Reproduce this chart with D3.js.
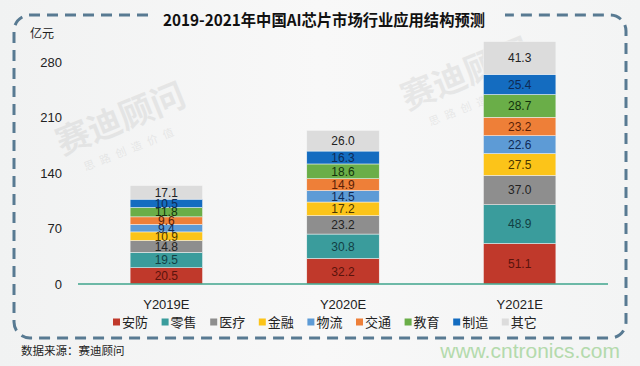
<!DOCTYPE html>
<html>
<head>
<meta charset="utf-8">
<script src="https://cdn.jsdelivr.net/npm/d3@7"></script>
<style>
  html, body { margin: 0; padding: 0; background: #f5f6f6; }
  svg { display: block; }
</style>
</head>
<body>
<div id="chart"></div>
<script>
const years = ['Y2019E', 'Y2020E', 'Y2021E'];
const seriesNames = ['安防', '零售', '医疗', '金融', '物流', '交通', '教育', '制造', '其它'];
const seriesColors = ['#c0392b', '#3a9c9c', '#8e8e8e', '#fcc419', '#5d9bd6', '#ee7f38', '#6aae48', '#146cc0', '#dcdcdc'];
const labelColors = ['#5a130c', '#123f44', '#222222', '#4a3600', '#102a55', '#5a1e06', '#12330c', '#0f2a55', '#222222'];
const seriesValues = [
  [20.5, 32.2, 51.1],
  [19.5, 30.8, 48.9],
  [14.8, 23.2, 37.0],
  [10.9, 17.2, 27.5],
  [9.4, 14.5, 22.6],
  [9.6, 14.9, 23.2],
  [11.8, 18.6, 28.7],
  [10.5, 16.3, 25.4],
  [17.1, 26.0, 41.3]
];
const yTicks = [0, 70, 140, 210, 280];

const width = 640, height = 366;
const cjk = '"Noto Sans CJK SC", "Noto Sans", sans-serif';
const latin = '"Liberation Sans", "Noto Sans", sans-serif';

const svg = d3.select('#chart').append('svg')
  .attr('width', width)
  .attr('height', height);

const grad = svg.append('defs').append('linearGradient')
  .attr('id', 'bg').attr('x1', 0).attr('x2', 1).attr('y1', 0).attr('y2', 0);
grad.append('stop').attr('offset', 0).attr('stop-color', '#f1f2f2');
grad.append('stop').attr('offset', 0.5).attr('stop-color', '#f8f8f8');
grad.append('stop').attr('offset', 1).attr('stop-color', '#f3f4f4');

svg.append('rect').attr('width', width).attr('height', height).attr('fill', 'url(#bg)');

// faint watermarks
[[125, 130, -22], [470, 85, -22]].forEach(([x, y, a]) => {
  svg.append('text')
    .attr('transform', `translate(${x},${y}) rotate(${a})`)
    .attr('text-anchor', 'middle')
    .attr('font-family', cjk)
    .attr('font-weight', 'bold')
    .attr('font-size', 34)
    .attr('fill', '#000')
    .attr('opacity', 0.06)
    .text('赛迪顾问');
  svg.append('text')
    .attr('transform', `translate(${x + 8},${y + 22}) rotate(${a})`)
    .attr('text-anchor', 'middle')
    .attr('font-family', cjk)
    .attr('font-size', 11)
    .attr('letter-spacing', 6)
    .attr('fill', '#000')
    .attr('opacity', 0.06)
    .text('思路创造价值');
});

// dashed frame with a gap for the title
const fx0 = 14, fx1 = 626, fy0 = 15, fy1 = 338, r = 16;
const frame = d3.path();
frame.moveTo(148, fy0);
frame.lineTo(fx0 + r, fy0);
frame.arcTo(fx0, fy0, fx0, fy0 + r, r);
frame.lineTo(fx0, fy1 - r);
frame.arcTo(fx0, fy1, fx0 + r, fy1, r);
frame.lineTo(fx1 - r, fy1);
frame.arcTo(fx1, fy1, fx1, fy1 - r, r);
frame.lineTo(fx1, fy0 + r);
frame.arcTo(fx1, fy0, fx1 - r, fy0, r);
frame.lineTo(505, fy0);

svg.append('path')
  .attr('d', frame.toString())
  .attr('fill', 'none')
  .attr('stroke', '#587a92')
  .attr('stroke-width', 3)
  .attr('stroke-dasharray', '11,7');

svg.append('text')
  .attr('x', 324).attr('y', 26)
  .attr('text-anchor', 'middle')
  .attr('font-family', cjk)
  .attr('font-weight', 'bold')
  .attr('font-size', 16)
  .attr('textLength', 322)
  .attr('lengthAdjust', 'spacingAndGlyphs')
  .attr('fill', '#111')
  .text('2019-2021年中国AI芯片市场行业应用结构预测');

svg.append('text')
  .attr('x', 30).attr('y', 38)
  .attr('font-family', cjk)
  .attr('font-size', 12)
  .attr('fill', '#222')
  .text('亿元');

const x = d3.scaleBand()
  .domain(years)
  .range([78, 608])
  .paddingInner(0.59)
  .paddingOuter(0.295);

const y = d3.scaleLinear()
  .domain([0, 280])
  .range([284, 62]);

const yAxis = svg.append('g')
  .attr('transform', 'translate(62,0)')
  .call(d3.axisLeft(y).tickValues(yTicks).tickSize(0).tickPadding(0));
yAxis.select('.domain').remove();
yAxis.selectAll('text')
  .attr('font-family', latin)
  .attr('font-size', 13)
  .attr('fill', '#222');

const rows = years.map((yr, i) => {
  const row = { year: yr };
  seriesNames.forEach((s, j) => { row[s] = seriesValues[j][i]; });
  return row;
});
const stacked = d3.stack().keys(seriesNames)(rows);

const layers = svg.append('g').selectAll('g')
  .data(stacked)
  .join('g')
  .attr('fill', (d, i) => seriesColors[i]);

layers.selectAll('rect')
  .data(d => d)
  .join('rect')
  .attr('x', d => x(d.data.year))
  .attr('width', x.bandwidth())
  .attr('y', d => y(d[1]))
  .attr('height', d => y(d[0]) - y(d[1]))
  .attr('stroke', '#f5f6f6')
  .attr('stroke-width', 0.5);

svg.append('g').selectAll('g')
  .data(stacked)
  .join('g')
  .attr('fill', (d, i) => labelColors[i])
  .selectAll('text')
  .data(d => d)
  .join('text')
  .attr('x', d => x(d.data.year) + x.bandwidth() / 2)
  .attr('y', d => (y(d[0]) + y(d[1])) / 2)
  .attr('dy', '0.36em')
  .attr('text-anchor', 'middle')
  .attr('font-family', latin)
  .attr('font-size', 12)
  .text(d => (d[1] - d[0]).toFixed(1));

// baseline
svg.append('line')
  .attr('x1', 78).attr('x2', 608)
  .attr('y1', y(0)).attr('y2', y(0))
  .attr('stroke', '#3fa48c')
  .attr('stroke-width', 1.5);

const xAxis = svg.append('g')
  .attr('transform', 'translate(0,300)')
  .call(d3.axisBottom(x).tickSize(0).tickPadding(0));
xAxis.select('.domain').remove();
xAxis.selectAll('text')
  .attr('font-family', latin)
  .attr('font-size', 13)
  .attr('fill', '#222');

// legend
const legend = svg.append('g').selectAll('g')
  .data(seriesNames)
  .join('g')
  .attr('transform', (d, i) => `translate(${113 + i * 48.6},322)`);
legend.append('rect')
  .attr('x', 0).attr('y', -3.5)
  .attr('width', 7).attr('height', 7)
  .attr('fill', (d, i) => seriesColors[i]);
legend.append('text')
  .attr('x', 9).attr('dy', '0.36em')
  .attr('font-family', cjk)
  .attr('font-size', 13)
  .attr('fill', '#222')
  .text(d => d);

svg.append('text')
  .attr('x', 21).attr('y', 355)
  .attr('font-family', cjk)
  .attr('font-size', 11.5)
  .attr('fill', '#222')
  .text('数据来源：赛迪顾问');

svg.append('text')
  .attr('x', 620).attr('y', 358)
  .attr('text-anchor', 'end')
  .attr('font-family', latin)
  .attr('font-size', 21)
  .attr('fill', '#a9d6a0')
  .attr('opacity', 0.85)
  .text('www.cntronics.com');
</script>
</body>
</html>
